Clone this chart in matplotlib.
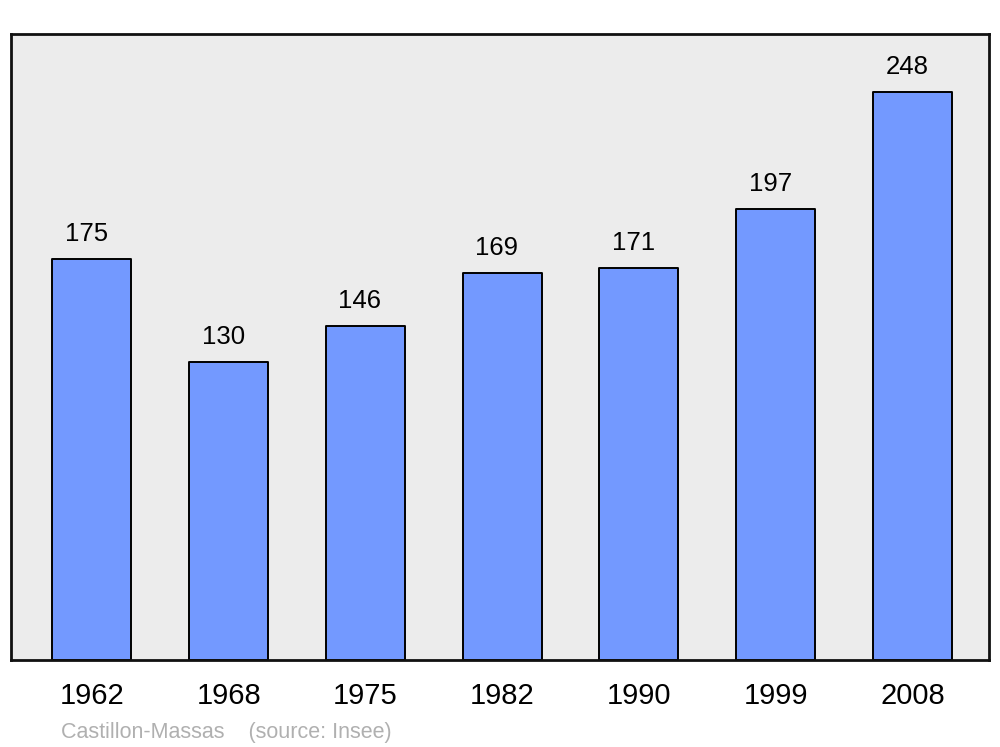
import matplotlib
matplotlib.use("Agg")
import matplotlib.pyplot as plt

plt.rcParams["font.family"] = ["Liberation Sans", "DejaVu Sans"]

years = ["1962", "1968", "1975", "1982", "1990", "1999", "2008"]
population = [175, 130, 146, 169, 171, 197, 248]
source_note = "Castillon-Massas    (source: Insee)"

fig = plt.figure(figsize=(10, 7.47), dpi=100)
ax = fig.add_axes([0.011, 0.1165, 0.978, 0.838])
ax.set_facecolor("#ececec")

x = list(range(len(years)))
bars = ax.bar(x, population, width=0.578, color="#7399ff", edgecolor="black",
              linewidth=1.4, zorder=2)
for b in bars:
    b.set_joinstyle("round")

for xi, v in zip(x, population):
    ax.annotate(str(v), (xi, v), xytext=(-4, 13), textcoords="offset points",
                ha="center", va="baseline", fontsize=18.5)

ax.set_xlim(-0.592, 6.56)
ax.set_ylim(0, 273.4)
ax.set_xticks(x)
ax.set_xticklabels(years, fontsize=21)
ax.set_yticks([])
ax.tick_params(axis="x", length=0, pad=16)
for s in ax.spines.values():
    s.set_linewidth(2)
    s.set_color("#111111")
    s.set_joinstyle("round")

fig.text(0.061, 1 - 738 / 747, source_note, color="#b0b0b0", fontsize=15.5,
         ha="left", va="baseline")

fig.savefig("out.png", dpi=100, facecolor="white")
